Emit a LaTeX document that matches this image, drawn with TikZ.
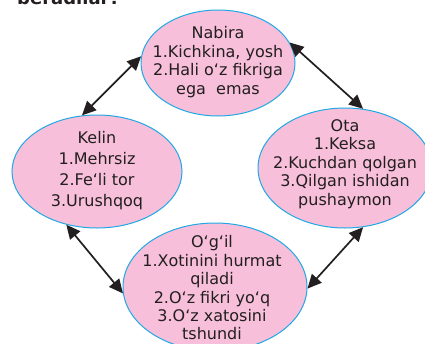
\documentclass[tikz,border=0pt]{standalone}
\usepackage{fontspec}
\setmainfont{DejaVu Sans}
\usetikzlibrary{arrows.meta,shapes.geometric}
\definecolor{pinkfill}{HTML}{F7BFD9}
\definecolor{cyanline}{HTML}{1FA8E5}
\definecolor{ink}{HTML}{231F20}
\begin{document}
\begin{tikzpicture}[x=1pt,y=-1pt,
  blob/.style={ellipse,draw=cyanline,line width=1pt,fill=pinkfill,inner sep=0pt},
  lbl/.style={align=center,text=ink,font=\fontsize{16}{18.4}\selectfont,inner sep=0pt},
  link/.style={line width=1.7pt,draw=ink,{Triangle[length=14pt,width=13pt]}-{Triangle[length=14pt,width=13pt]}}]
\useasboundingbox (0,0) rectangle (425,343);
\clip (0,0) rectangle (425,343);
\node[anchor=base west,text=ink,inner sep=0pt,font=\fontsize{18}{22}\selectfont\bfseries] (title) at (17,4) {beradilar?};
\node[blob,minimum width=154pt,minimum height=106pt] (nab) at (218,63) {};
\node[blob,minimum width=170pt,minimum height=113pt] (kel) at (97,171.5) {};
\node[blob,minimum width=174pt,minimum height=120pt] (ota) at (345,168) {};
\node[blob,minimum width=184pt,minimum height=128pt] (og) at (215,287) {};
\node[lbl] (nabt) at (218,62) {Nabira\\1.Kichkina, yosh\\2.Hali oʻz fikriga\\ega\ \ emas};
\node[lbl,font=\fontsize{16}{21}\selectfont] (kelt) at (97,171) {Kelin\\1.Mehrsiz\\2.Feʻli tor\\3.Urushqoq};
\node[lbl] (otat) at (345,164) {Ota\\1.Keksa\\2.Kuchdan qolgan\\3.Qilgan ishidan\\pushaymon};
\node[lbl] (ogt) at (212,288) {Oʻgʻil\\1.Xotinini hurmat\\qiladi\\2.Oʻz fikri yoʻq\\3.Oʻz xatosini\\tshundi};
\draw[link] (kel.105) -- (nab.175);
\draw[link] (nab.16) -- (ota.73);
\draw[link] (kel.240) -- (og.184);
\draw[link] (ota.287) -- (og.359);
\end{tikzpicture}
\end{document}
